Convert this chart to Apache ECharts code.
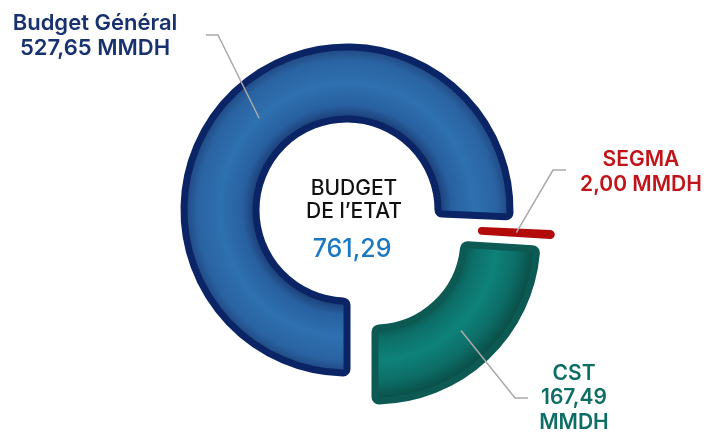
<!DOCTYPE html>
<html>
<head>
    <meta charset="UTF-8">
    <title>Budget de l'Etat</title>
    <style>
        html, body { margin: 0; padding: 0; background: #fff; }
        #container { width: 706px; height: 432px; }
    </style>
</head>
<body>
    <div id="container"></div>
    <script src="https://cdn.jsdelivr.net/npm/echarts@6/dist/echarts.min.js"></script>
    <script>
        // données (MMDH)
        var categories = ['Budget Général', 'SEGMA', 'CST'];
        var values = [527.65, 2.00, 167.49];
        var valueTexts = ['527,65', '2,00', '167,49'];
        var unitText = 'MMDH';
        var centerTitle = 'BUDGET\nDE l\u2019ETAT';
        var totalText = '761,29';

        // mise en forme de chaque part
        var looks = [
            {
                center: [347, 210], radius: [91, 163], borderWidth: 7, border: '#0a2466',
                fill: { type: 'radial', x: 0.5, y: 0.5, r: 0.5, colorStops: [
                    { offset: 0.55, color: '#1a3b72' }, { offset: 0.63, color: '#2860a0' },
                    { offset: 0.76, color: '#2e70b0' }, { offset: 0.9, color: '#2a63a2' },
                    { offset: 1, color: '#1b3d74' }] },
                textColor: '#17326e', fontSize: 22,
                text: function (i) { return categories[i] + '\n' + valueTexts[i] + ' ' + unitText; },
                lineHeight: 25, labelAt: [95, 36], elbow: [218, 35], lineEnd: [206, 35]
            },
            {
                center: [389, 226], radius: [92, 163], borderWidth: 6, border: '#b30a0a',
                fill: '#b30a0a',
                textColor: '#c0141a', fontSize: 21,
                text: function (i) { return categories[i] + '\n' + valueTexts[i] + ' ' + unitText; },
                lineHeight: 25, labelAt: [641, 172], elbow: [553, 170], lineEnd: [566, 170]
            },
            {
                center: [375, 239], radius: [89, 162], borderWidth: 7, border: '#0c5a53',
                fill: { type: 'radial', x: 0, y: -0.035, r: 1, colorStops: [
                    { offset: 0.55, color: '#0a4f49' }, { offset: 0.64, color: '#0c6f68' },
                    { offset: 0.77, color: '#0e827a' }, { offset: 0.9, color: '#0c6d66' },
                    { offset: 1, color: '#0a4f49' }] },
                textColor: '#0e6e66', fontSize: 21,
                text: function (i) { return categories[i] + '\n' + valueTexts[i] + '\n' + unitText; },
                lineHeight: 24.5, labelAt: [574, 398], elbow: [515, 398], lineEnd: [528, 398]
            }
        ];

        var hidden = { color: 'rgba(0,0,0,0)', borderWidth: 0 };

        // part k dessinée seule (les autres transparentes) ; withLabel = passe des étiquettes, au-dessus
        function makeSeries(k, withLabel) {
            var look = looks[k];
            var data = categories.map(function (name, i) {
                var item = { name: name, value: values[i] };
                if (i === k && !withLabel) {
                    item.itemStyle = { color: look.fill, borderColor: look.border, borderWidth: look.borderWidth, borderRadius: 4 };
                } else {
                    item.itemStyle = hidden;
                }
                if (i !== k || !withLabel) {
                    item.label = { show: false };
                    item.labelLine = { show: false };
                }
                return item;
            });
            return {
                type: 'pie',
                z: withLabel ? 5 : 2,
                silent: withLabel,
                center: look.center,
                radius: look.radius,
                startAngle: 270,
                clockwise: true,
                avoidLabelOverlap: false,
                emphasis: { disabled: true },
                label: {
                    show: withLabel,
                    position: 'outside',
                    formatter: function (p) { return look.text(p.dataIndex); },
                    color: look.textColor,
                    fontFamily: 'Inter',
                    fontWeight: 600,
                    fontSize: look.fontSize,
                    lineHeight: look.lineHeight,
                    align: 'center'
                },
                labelLine: {
                    show: withLabel,
                    lineStyle: { color: '#a9a9a9', width: 1.5 }
                },
                labelLayout: function (params) {
                    var p0 = params.labelLinePoints ? params.labelLinePoints[0] : null;
                    var res = {
                        x: look.labelAt[0], y: look.labelAt[1],
                        align: 'center', verticalAlign: 'middle'
                    };
                    if (p0) {
                        var dx = p0[0] - look.center[0], dy = p0[1] - look.center[1];
                        var d = Math.sqrt(dx * dx + dy * dy) || 1;
                        var rMid = (look.radius[0] + look.radius[1]) / 2;
                        var start = [look.center[0] + dx / d * rMid, look.center[1] + dy / d * rMid];
                        res.labelLinePoints = [start, look.elbow, look.lineEnd];
                    }
                    return res;
                },
                data: data
            };
        }

        var myChart = echarts.init(document.getElementById('container'));
        myChart.setOption({
            animation: false,
            series: [
                makeSeries(0, false), makeSeries(2, false), makeSeries(1, false),
                makeSeries(0, true), makeSeries(2, true), makeSeries(1, true)
            ],
            graphic: [
                {
                    type: 'text', x: 354, y: 200,
                    style: {
                        text: centerTitle, fill: '#111', font: '500 21px Inter', lineHeight: 23.5,
                        align: 'center', verticalAlign: 'middle', textAlign: 'center', textVerticalAlign: 'middle'
                    }
                },
                {
                    type: 'text', x: 352, y: 249,
                    style: {
                        text: totalText, fill: '#1a78c4', font: '500 25px Inter',
                        align: 'center', verticalAlign: 'middle', textAlign: 'center', textVerticalAlign: 'middle'
                    }
                }
            ]
        });
    </script>
</body>
</html>
